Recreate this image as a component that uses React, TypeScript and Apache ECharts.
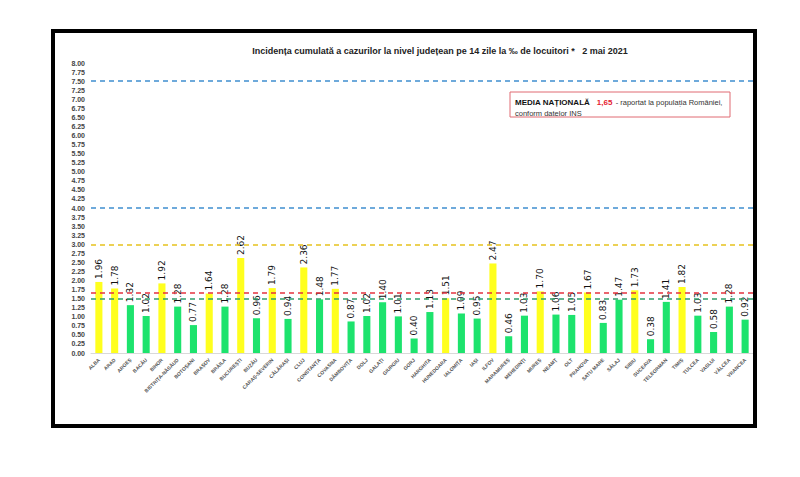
import React, { useEffect, useRef } from "react";
import * as echarts from "echarts";

const counties = [
  "ALBA", "ARAD", "ARGEȘ", "BACĂU", "BIHOR", "BISTRIȚA-NĂSĂUD", "BOTOȘANI", "BRAȘOV", "BRĂILA", "BUCUREȘTI",
  "BUZĂU", "CARAȘ-SEVERIN", "CĂLĂRAȘI", "CLUJ", "CONSTANȚA", "COVASNA", "DÂMBOVIȚA", "DOLJ", "GALAȚI", "GIURGIU",
  "GORJ", "HARGHITA", "HUNEDOARA", "IALOMIȚA", "IAȘI", "ILFOV", "MARAMUREȘ", "MEHEDINȚI", "MUREȘ", "NEAMȚ",
  "OLT", "PRAHOVA", "SATU MARE", "SĂLAJ", "SIBIU", "SUCEAVA", "TELEORMAN", "TIMIȘ", "TULCEA", "VASLUI",
  "VÂLCEA", "VRANCEA",
];

const incidence = [
  1.96, 1.78, 1.32, 1.02, 1.92, 1.28, 0.77, 1.64, 1.28, 2.62,
  0.96, 1.79, 0.94, 2.36, 1.48, 1.77, 0.87, 1.02, 1.40, 1.01,
  0.40, 1.13, 1.51, 1.09, 0.95, 2.47, 0.46, 1.03, 1.70, 1.06,
  1.05, 1.67, 0.83, 1.47, 1.73, 0.38, 1.41, 1.82, 1.03, 0.58,
  1.28, 0.92,
];

const thresholds = [
  { value: 7.5, color: "#3f8fcf" },
  { value: 4.0, color: "#3f8fcf" },
  { value: 3.0, color: "#e6c21e" },
  { value: 1.65, color: "#e5333f" },
  { value: 1.5, color: "#2f9e6b" },
];

const colorCut = 1.5;
const nationalAverage = "1,65";

export default function App() {
  const ref = useRef<HTMLDivElement>(null);
  useEffect(() => {
    if (!ref.current) return;
    const chart = echarts.init(ref.current, undefined, { renderer: "svg" });
    const font = "'Liberation Sans Narrow', 'Liberation Sans', Arial, sans-serif";
    chart.setOption({
      animation: false,
      backgroundColor: "#ffffff",
      title: {
        text: "Incidența cumulată a cazurilor la nivel județean pe 14 zile la ‰ de locuitori *   2 mai 2021",
        left: 435,
        top: 41,
        textAlign: "center",
        textStyle: { fontSize: 9, fontWeight: "bold", color: "#222", fontFamily: font },
      },
      grid: { left: 91, right: 47, top: 63, bottom: 124, containLabel: false },
      xAxis: {
        type: "category",
        data: counties,
        axisLine: { show: true, lineStyle: { color: "#d9d9d9", width: 1 } },
        axisTick: { show: false },
        axisLabel: {
          interval: 0,
          rotate: 45,
          fontSize: 5,
          fontWeight: "bold",
          color: "#555",
          margin: 6,
          fontFamily: font,
        },
      },
      yAxis: {
        type: "value",
        min: 0,
        max: 8,
        interval: 0.25,
        axisLine: { show: false },
        axisTick: { show: false },
        splitLine: { show: false },
        axisLabel: {
          fontSize: 7,
          fontWeight: "bold",
          color: "#444",
          margin: 6,
          fontFamily: font,
          formatter: (v: number) => v.toFixed(2),
        },
      },
      series: [
        {
          type: "bar",
          barWidth: "45%",
          data: incidence.map((v) => ({
            value: v,
            itemStyle: { color: v >= colorCut ? "#ffff1e" : "#1de36d" },
          })),
          label: {
            show: true,
            position: "top",
            rotate: 90,
            align: "left",
            verticalAlign: "middle",
            distance: 3,
            fontSize: 9,
            color: "#111",
            fontFamily: "'DejaVu Sans', sans-serif",
            formatter: (p: any) => Number(p.value).toFixed(2),
          },
          markLine: {
            silent: true,
            symbol: "none",
            label: { show: false },
            data: thresholds.map((t) => ({
              yAxis: t.value,
              lineStyle: { color: t.color, type: [5, 4], width: 1.5 },
            })),
          },
        },
      ],
      graphic: [
        {
          type: "rect",
          shape: { x: 53, y: 31, width: 702, height: 395 },
          style: { fill: "none", stroke: "#000", lineWidth: 4 },
          z: 100,
        },
        {
          type: "rect",
          shape: { x: 510, y: 92, width: 220, height: 25 },
          style: { fill: "#fff", stroke: "#e06a72", lineWidth: 1 },
          z: 50,
        },
        {
          type: "text",
          x: 515,
          y: 96,
          z: 51,
          style: {
            text: "{b|MEDIA NAȚIONALĂ}  {r|" + nationalAverage + "} {n|- raportat la populația României,}\n{n|conform datelor INS}",
            fontFamily: font,
            rich: {
              b: { fontSize: 8, fontWeight: "bold", fill: "#111", fontFamily: font, lineHeight: 10 },
              r: { fontSize: 8, fontWeight: "bold", fill: "#e5222f", fontFamily: font, lineHeight: 10 },
              n: { fontSize: 7.5, fill: "#333", fontFamily: font, lineHeight: 10 },
            },
          },
        },
      ],
    });
    return () => chart.dispose();
  }, []);
  return (
    <div
      ref={ref}
      style={{ position: "fixed", left: 0, top: 0, width: 800, height: 477, background: "#fff" }}
    />
  );
}
